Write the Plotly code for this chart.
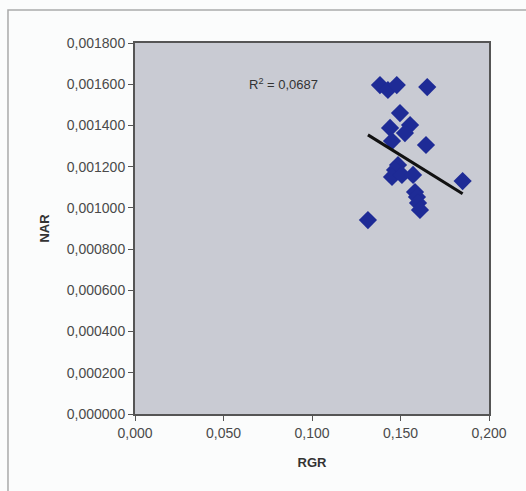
import numpy as np
import plotly.graph_objects as go

rgr = [0.1384, 0.1429, 0.1479, 0.1651, 0.1497, 0.1441, 0.1554, 0.1525, 0.1452,
       0.1644, 0.1486, 0.1469, 0.1452, 0.1508, 0.1571, 0.1851, 0.1582, 0.1593,
       0.1599, 0.1610, 0.1316]
nar = [0.001596, 0.001572, 0.001596, 0.001586, 0.001460, 0.001388, 0.001402,
       0.001363, 0.001324, 0.001305, 0.001208, 0.001184, 0.001150, 0.001160,
       0.001160, 0.001130, 0.001077, 0.001053, 0.001024, 0.000990, 0.000941]
# linear trendline as shown in the picture
trend_slope = -0.00534
trend_intercept = 0.002057
r2_label = "R<sup>2</sup> = 0,0687"
x_ticks = [0.0, 0.05, 0.10, 0.15, 0.20]
y_ticks = [0.0, 0.0002, 0.0004, 0.0006, 0.0008, 0.0010, 0.0012, 0.0014, 0.0016, 0.0018]

tx = np.array([min(rgr), max(rgr)])
ty = trend_slope * tx + trend_intercept

fig = go.Figure()
fig.add_trace(go.Scatter(x=rgr, y=nar, mode="markers",
                         marker=dict(symbol="diamond", size=14, color="#1e2b96",
                                     line=dict(width=0)), showlegend=False))
fig.add_trace(go.Scatter(x=tx, y=ty, mode="lines",
                         line=dict(color="#111111", width=3), showlegend=False))

tick_font = dict(family="Liberation Sans", size=14, color="#4a4a4a")
title_font = dict(family="Liberation Sans", size=13, color="#333333")
axis_common = dict(showgrid=False, zeroline=False, showline=True, linecolor="#555555",
                   linewidth=2, mirror=True, ticks="outside", ticklen=5,
                   tickcolor="#555555", tickfont=tick_font)
fig.update_xaxes(range=[0, 0.2], tickvals=x_ticks, tickformat=".3f",
                 title=dict(text="<b>RGR</b>", font=title_font, standoff=18),
                 **axis_common)
fig.update_yaxes(range=[0, 0.0018], tickvals=y_ticks, tickformat=".6f",
                 title=dict(text="<b>NAR</b>", font=title_font, standoff=14),
                 **axis_common)

fig.add_annotation(x=0.316, y=0.917, xref="paper", yref="paper", text=r2_label,
                   showarrow=False, font=dict(family="Liberation Sans", size=13, color="#333333"))

fig.add_shape(type="rect", xref="paper", yref="paper", x0=-0.3588, x1=1.3, y0=-0.3, y1=1.089,
              line=dict(color="#aaaaaa", width=1.5), layer="below")

fig.update_layout(width=526, height=491, separators=",.",
                  margin=dict(l=135, r=37, t=43, b=77),
                  plot_bgcolor="#c9cbd3", paper_bgcolor="#fbfcfc")
fig.write_html("out.html")
